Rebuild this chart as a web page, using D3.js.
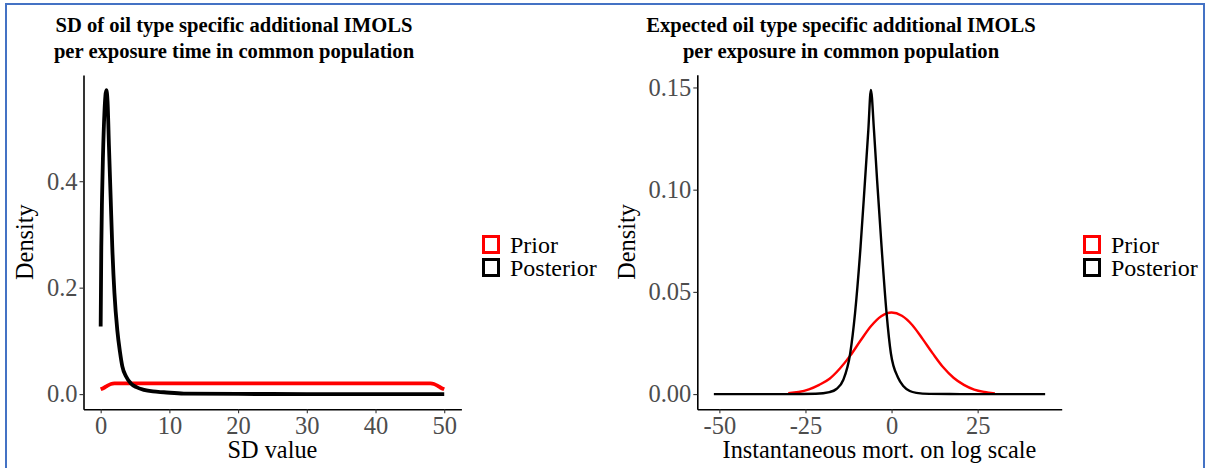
<!DOCTYPE html>
<html>
<head>
<meta charset="utf-8">
<script src="https://cdn.jsdelivr.net/npm/d3@7"></script>
<style>
  body { margin: 0; background: #fff; }
  svg { display: block; font-family: "Liberation Serif", "Times New Roman", serif; }
</style>
</head>
<body>
<svg id="chart" width="1207" height="468"></svg>
<script>
// left panel: SD of additional IMOLS
const sdPriorX = [0, 0.5, 1, 1.5, 2, 10, 20, 30, 40, 48, 48.5, 49, 49.5, 50];
const sdPriorY = [0.009, 0.012, 0.016, 0.019, 0.020, 0.020, 0.020, 0.020, 0.020, 0.020, 0.019, 0.016, 0.012, 0.009];
const sdPostX = [0, 0.09, 0.2, 0.33, 0.55, 0.82, 1.0, 1.21, 1.45, 1.69, 2.0, 2.42, 2.8, 3.15, 3.7, 4.36, 5.2, 6.3, 7.6, 9.2, 12.1, 20, 30, 40, 50];
const sdPostY = [0.127, 0.276, 0.37, 0.445, 0.53, 0.571, 0.55, 0.464, 0.37, 0.276, 0.19, 0.120, 0.08, 0.052, 0.033, 0.0206, 0.013, 0.008, 0.005, 0.0035, 0.001, 0.0003, 0.0001, 0.0, 0.0];

// right panel: expected additional IMOLS on log scale
const mPriorX = [-30, -27, -24, -21, -18, -15, -12, -9, -6, -3, 0, 3, 6, 9, 12, 15, 18, 21, 24, 27, 30];
const mPriorY = [0.0004, 0.0010, 0.0023, 0.0045, 0.0075, 0.0125, 0.0188, 0.0262, 0.0332, 0.0381, 0.0399, 0.0383, 0.0338, 0.0270, 0.0198, 0.0131, 0.0080, 0.0045, 0.0022, 0.0010, 0.0003];
const mPostX = [-51.6, -40, -30, -22, -18, -16, -14, -12, -10.6, -9, -7.7, -6.75, -6, -5.1, -4.2, -2.9, -1.45, -0.2, 1.9, 3.4, 5.3, 7.2, 11, 20, 30, 44.6];
const mPostY = [0, 0, 0, 0.0002, 0.0010, 0.0025, 0.0070, 0.0200, 0.0396, 0.0721, 0.1047, 0.129, 0.1488, 0.129, 0.1047, 0.0721, 0.0396, 0.020, 0.008, 0.004, 0.0015, 0.0006, 0.0001, 0, 0, 0];

const seriesNames = ['Prior', 'Posterior'];
const seriesColors = ['#ff0000', '#000000'];

const panels = [
  {
    title: ['SD of oil type specific additional IMOLS', 'per exposure time in common population'],
    titleX: 234, xLabel: 'SD value', yLabel: 'Density',
    xTicks: [0, 10, 20, 30, 40, 50], yTicks: [0, 0.2, 0.4], yFmt: d3.format('.1f'),
    left: 83.5, right: 461.4, top: 75, bottom: 409.3, lw: 3.8,
    yLabelX: 25, legendX: 482,
    curves: [[sdPriorX, sdPriorY], [sdPostX, sdPostY]]
  },
  {
    title: ['Expected oil type specific additional IMOLS', 'per exposure in common population'],
    titleX: 841, xLabel: 'Instantaneous mort. on log scale', yLabel: 'Density',
    xTicks: [-50, -25, 0, 25], yTicks: [0, 0.05, 0.10, 0.15], yFmt: d3.format('.2f'),
    left: 697.3, right: 1061.7, top: 74.7, bottom: 409.3, lw: 2.4,
    yLabelX: 627, legendX: 1083,
    curves: [[mPriorX, mPriorY], [mPostX, mPostY]]
  }
];

const svg = d3.select('#chart');

// outer blue frame
svg.append('rect')
  .attr('x', 6).attr('y', 4).attr('width', 1198).attr('height', 470)
  .attr('fill', 'none').attr('stroke', '#4472c4').attr('stroke-width', 2);

function drawPanel(p) {
  const allX = p.curves.flatMap(c => c[0]);
  const allY = p.curves.flatMap(c => c[1]);
  const [x0, x1] = d3.extent(allX);
  const y1 = d3.max(allY);
  const xPad = (x1 - x0) * 0.05, yPad = y1 * 0.05;

  const x = d3.scaleLinear().domain([x0 - xPad, x1 + xPad]).range([p.left, p.right]);
  const y = d3.scaleLinear().domain([-yPad, y1 + yPad]).range([p.bottom, p.top]);

  const g = svg.append('g');

  // curves
  const line = d3.line().x(d => x(d[0])).y(d => y(d[1])).curve(d3.curveMonotoneX);
  p.curves.forEach((c, i) => {
    const pts = c[0].map((v, k) => [v, c[1][k]]);
    g.append('path')
      .datum(pts)
      .attr('d', line)
      .attr('fill', 'none')
      .attr('stroke', seriesColors[i])
      .attr('stroke-width', p.lw)
      .attr('stroke-linejoin', 'round');
  });

  // axes (plain hyphen for negatives, like the original)
  const xAxis = g.append('g')
    .attr('transform', `translate(0,${p.bottom})`)
    .call(d3.axisBottom(x).tickValues(p.xTicks).tickFormat(d => String(d))
      .tickSize(4).tickPadding(3).tickSizeOuter(0));
  const yAxis = g.append('g')
    .attr('transform', `translate(${p.left},0)`)
    .call(d3.axisLeft(y).tickValues(p.yTicks).tickFormat(p.yFmt)
      .tickSize(4).tickPadding(2).tickSizeOuter(0));

  [xAxis, yAxis].forEach(a => {
    a.attr('font-family', null);
    a.select('.domain').attr('stroke', '#000').attr('stroke-width', 1.6);
    a.selectAll('.tick line').attr('stroke', '#333').attr('stroke-width', 1.1);
    a.selectAll('.tick text')
      .attr('fill', '#4d4d4d')
      .style('font-family', '"Liberation Serif", serif')
      .style('font-size', '24.5px');
  });

  // axis titles
  g.append('text')
    .attr('x', (p.left + p.right) / 2).attr('y', 458)
    .attr('text-anchor', 'middle')
    .style('font-size', '24.3px')
    .text(p.xLabel);
  g.append('text')
    .attr('transform', `translate(${p.yLabelX + 8},${(p.top + p.bottom) / 2}) rotate(-90)`)
    .attr('text-anchor', 'middle')
    .style('font-size', '24.3px')
    .text(p.yLabel);

  // title
  p.title.forEach((t, i) => {
    g.append('text')
      .attr('x', p.titleX).attr('y', 32 + i * 26)
      .attr('text-anchor', 'middle')
      .style('font-size', '20.6px')
      .style('font-weight', 'bold')
      .text(t);
  });

  // legend
  seriesNames.forEach((name, i) => {
    const ly = 235 + i * 23;
    g.append('rect')
      .attr('x', p.legendX + 1.5).attr('y', ly + 1.5)
      .attr('width', 15).attr('height', 16)
      .attr('fill', 'none')
      .attr('stroke', seriesColors[i])
      .attr('stroke-width', 3);
    g.append('text')
      .attr('x', p.legendX + 28).attr('y', ly + 18)
      .style('font-size', '24px')
      .text(name);
  });
}

panels.forEach(drawPanel);
</script>
</body>
</html>
